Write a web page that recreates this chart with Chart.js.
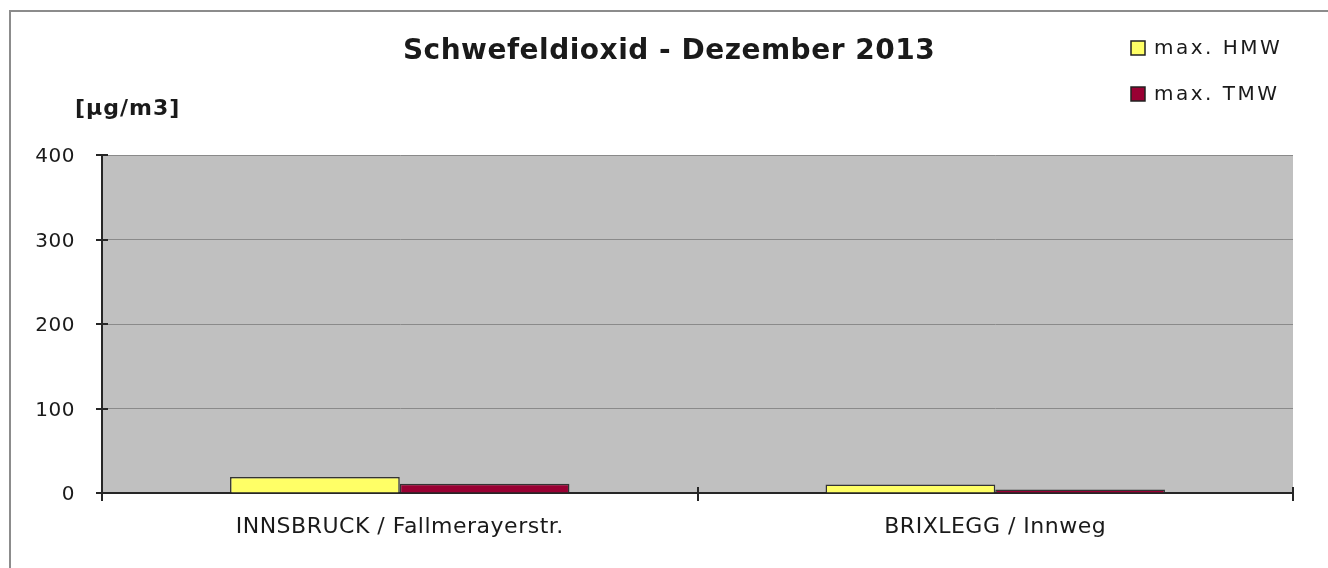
<!DOCTYPE html>
<html>
<head>
<meta charset="utf-8">
<script src="https://cdn.jsdelivr.net/npm/chart.js@4"></script>
<style>
  html, body { margin: 0; padding: 0; background: #fff; }
  #wrap { width: 1328px; height: 568px; position: relative; }
</style>
</head>
<body>
<div id="wrap"><canvas id="chart"></canvas></div>
<script>
const categories = ["INNSBRUCK / Fallmerayerstr.", "BRIXLEGG / Innweg"];
const maxHMW = [19, 10];
const maxTMW = [11, 4];
const yTicks = [0, 100, 200, 300, 400];
const chartTitle = "Schwefeldioxid - Dezember 2013";
const unitLabel = "[µg/m3]";

const FONT = "'DejaVu Sans', sans-serif";

// frame, plot background, title, unit label, legend and crossing tick marks
const decor = {
  id: "decor",
  beforeDraw(chart) {
    const { ctx, chartArea: a } = chart;
    ctx.save();
    ctx.strokeStyle = "#8c8c8c";
    ctx.lineWidth = 2;
    ctx.strokeRect(10, 11, 1400, 700);
    ctx.fillStyle = "#c0c0c0";
    ctx.fillRect(a.left, a.top, a.right - a.left, a.bottom - a.top);
    ctx.restore();
    // the source text is set a bit wide
    ctx.letterSpacing = "0.5px";
  },
  afterDraw(chart) {
    const { ctx, chartArea: a, scales } = chart;
    ctx.save();
    ctx.strokeStyle = "#262626";
    ctx.lineWidth = 2;
    ctx.beginPath();
    for (const v of yTicks) {
      const y = Math.round(scales.y.getPixelForValue(v));
      ctx.moveTo(a.left - 6, y);
      ctx.lineTo(a.left + 6, y);
    }
    const step = scales.x.getPixelForValue(1) - scales.x.getPixelForValue(0);
    for (let i = 0; i <= categories.length; i++) {
      const x = Math.round(scales.x.getPixelForValue(0) - step / 2 + i * step);
      ctx.moveTo(x, a.bottom - 6);
      ctx.lineTo(x, a.bottom + 8);
    }
    ctx.stroke();

    ctx.fillStyle = "#1a1a1a";
    ctx.textBaseline = "middle";
    ctx.textAlign = "center";
    ctx.font = "bold 28px " + FONT;
    ctx.letterSpacing = "0.5px";
    ctx.fillText(chartTitle, 669, 52);

    ctx.textAlign = "left";
    ctx.font = "bold 22px " + FONT;
    ctx.letterSpacing = "1px";
    ctx.fillText(unitLabel, 75, 109);

    ctx.font = "20px " + FONT;
    ctx.letterSpacing = "2.5px";
    chart.data.datasets.forEach((ds, i) => {
      const y = 48 + i * 46;
      ctx.fillStyle = ds.backgroundColor;
      ctx.fillRect(1131, y - 7, 14, 14);
      ctx.strokeStyle = "#222";
      ctx.lineWidth = 1.5;
      ctx.strokeRect(1131, y - 7, 14, 14);
      ctx.fillStyle = "#1a1a1a";
      ctx.fillText(ds.label, 1154, y + 1);
    });
    ctx.restore();
    ctx.letterSpacing = "0px";
  }
};

new Chart(document.getElementById("chart"), {
  type: "bar",
  data: {
    labels: categories,
    datasets: [
      { label: "max. HMW", data: maxHMW, backgroundColor: "#ffff66", borderColor: "#333", borderWidth: 1.5 },
      { label: "max. TMW", data: maxTMW, backgroundColor: "#990033", borderColor: "#333", borderWidth: 1.5 }
    ]
  },
  options: {
    responsive: true,
    maintainAspectRatio: false,
    animation: false,
    layout: { padding: { left: 0, right: 35, top: 155, bottom: 0 } },
    datasets: { bar: { categoryPercentage: 0.57, barPercentage: 1 } },
    scales: {
      x: {
        grid: { display: false },
        border: { display: true, color: "#262626", width: 2 },
        ticks: { color: "#1a1a1a", font: { family: FONT, size: 22 }, padding: 13, maxRotation: 0 },
        afterFit(s) { s.height = 75; }
      },
      y: {
        min: 0,
        max: 400,
        ticks: { stepSize: 100, color: "#1a1a1a", font: { family: FONT, size: 20 }, padding: 27, labelOffset: 2 },
        grid: { color: "#8a8a8a", lineWidth: 1, drawTicks: false },
        border: { display: true, color: "#262626", width: 2 },
        afterFit(s) { s.width = 102; }
      }
    },
    plugins: {
      legend: { display: false },
      tooltip: { enabled: false },
      title: { display: false }
    }
  },
  plugins: [decor]
});
</script>
</body>
</html>
